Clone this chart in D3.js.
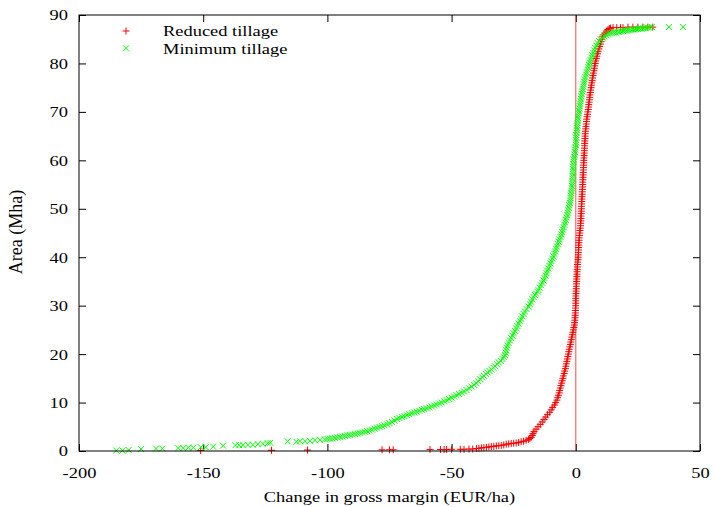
<!DOCTYPE html>
<html>
<head>
<meta charset="utf-8">
<script src="https://cdn.jsdelivr.net/npm/d3@7"></script>
<style>
  body { margin: 0; background: #fff; }
  text { font-family: "Liberation Serif", "Times New Roman", serif; font-size: 15.5px; fill: #000; }
</style>
</head>
<body>
<svg width="714" height="507"></svg>
<script>
// values: [change in gross margin (EUR/ha), area (Mha)]
var reducedTillage = [
  [-151,0.1],[-122.5,0.15],[-108,0.2],[-78,0.25],[-75,0.25],[-73.5,0.25],[-58.7,0.3],[-54.5,0.3],
  [-53,0.3],[-52,0.3],[-50,0.35],[-46.5,0.35],[-45,0.35],[-43,0.4],[-41.5,0.4],
  [-40,0.5],[-39,0.55],[-38,0.65],[-37,0.7],[-36,0.75],[-35,0.85],[-34,0.9],[-33,0.95],
  [-32,1.05],[-31,1.1],[-30,1.15],[-29,1.25],[-28,1.4],[-27,1.45],[-26,1.55],[-25,1.6],
  [-24,1.65],[-23,1.75],[-22,1.9],[-21,2.0],[-20,2.2],[-19,2.4],[-18.5,2.6],[-18,2.8],
  [-17.5,3.2],[-17.2,3.6],[-16.8,4.0],[-16.0,4.5],[-15.2,5.0],[-14.3,5.5],[-13.5,6.0],[-12.8,6.5],
  [-12.1,7.0],[-11.4,7.5],[-10.5,8.0],[-9.9,8.5],[-9.3,9.0],[-8.6,9.5],[-8.1,10.0],[-7.6,10.5],
  [-7.3,11.0],[-7.0,11.5],[-6.7,12.0],[-6.5,12.5],[-6.2,13.0],[-6.0,13.5],[-5.7,14.0],[-5.5,14.5],
  [-5.2,15.0],[-5.0,15.5],[-4.7,16.0],[-4.5,16.5],[-4.2,17.0],[-4.0,17.5],[-3.8,18.0],[-3.6,18.5],
  [-3.4,19.0],[-3.2,19.5],[-3.0,20.0],[-2.8,20.5],[-2.6,21.0],[-2.4,21.5],[-2.2,22.0],[-2.0,22.5],
  [-1.8,23.0],[-1.6,23.5],[-1.4,24.0],[-1.2,24.5],[-1.0,25.0],[-0.8,25.5],[-0.6,26.0],[-0.5,26.5],
  [-0.4,27.0],[-0.3,27.5],[-0.25,28.0],[-0.2,28.5],[-0.15,29.0],[-0.1,29.5],[-0.05,30.0],[0,30.5],
  [0,31.0],[0,31.5],[0.05,32.0],[0.1,32.5],[0.15,33.0],[0.2,33.5],[0.25,34.0],[0.3,34.5],
  [0.35,35.0],[0.4,35.5],[0.45,36.0],[0.5,36.5],[0.55,37.0],[0.6,37.5],[0.65,38.0],[0.7,38.5],
  [0.8,39.0],[0.9,39.5],[0.95,40.0],[1.0,40.5],[1.05,41.0],[1.1,41.5],[1.15,42.0],[1.2,42.5],
  [1.25,43.0],[1.3,43.5],[1.4,44.0],[1.5,44.5],[1.6,45.0],[1.7,45.5],[1.8,46.0],[1.9,46.5],
  [1.95,47.0],[2.0,47.5],[2.05,48.0],[2.1,48.5],[2.15,49.0],[2.2,49.5],[2.25,50.0],[2.3,50.5],
  [2.35,51.0],[2.4,51.5],[2.45,52.0],[2.5,52.5],[2.55,53.0],[2.6,53.5],[2.65,54.0],[2.7,54.5],
  [2.75,55.0],[2.8,55.5],[2.85,56.0],[2.9,56.5],[2.95,57.0],[3.0,57.5],[3.05,58.0],[3.1,58.5],
  [3.15,59.0],[3.2,59.5],[3.25,60.0],[3.3,60.5],[3.35,61.0],[3.4,61.5],[3.45,62.0],[3.5,62.5],
  [3.55,63.0],[3.6,63.5],[3.65,64.0],[3.7,64.5],[3.75,65.0],[3.8,65.5],[3.9,66.0],[4.0,66.5],
  [4.1,67.0],[4.2,67.5],[4.3,68.0],[4.4,68.5],[4.55,69.0],[4.7,69.5],[4.85,70.0],[5.0,70.5],
  [5.1,71.0],[5.2,71.5],[5.35,72.0],[5.5,72.5],[5.6,73.0],[5.7,73.5],[5.85,74.0],[6.0,74.5],
  [6.15,75.0],[6.3,75.5],[6.45,76.0],[6.6,76.5],[6.75,77.0],[6.9,77.5],[7.1,78.0],[7.3,78.5],
  [7.45,79.0],[7.6,79.5],[7.8,80.0],[8.0,80.5],[8.25,81.0],[8.5,81.5],[8.75,82.0],[9.0,82.5],
  [9.3,83.0],[9.6,83.5],[9.9,84.0],[10.2,84.5],[10.5,85.0],[10.8,85.5],[11.3,85.9],[11.8,86.3],
  [12.4,86.7],[13,87.0],[13.5,87.2],[14,87.3],[15,87.4],[16.5,87.4],[18,87.4],[19,87.4],
  [21,87.5],[23,87.5],[25,87.5],[27,87.5],[29,87.5],[31,87.5]
];

var minimumTillage = [
  [-185,0.1],[-182.5,0.1],[-180,0.2],[-175,0.4],[-169,0.5],[-166.5,0.5],[-160,0.6],[-158,0.6],
  [-156,0.7],[-154,0.7],[-151,0.8],[-149,0.8],[-146,0.9],[-142,1.1],[-137,1.2],[-135.5,1.2],
  [-134,1.2],[-132,1.3],[-130,1.3],[-128,1.4],[-126,1.5],[-124,1.6],[-123,1.7],[-116,2.0],
  [-112.5,1.9],[-111,2.0],[-109,2.0],[-107,2.1],[-105,2.2],[-103,2.3],[-101,2.4],
  [-100,2.5],[-99,2.55],[-98,2.6],[-97,2.7],[-96,2.8],[-95,2.9],[-94,3.0],[-93,3.1],
  [-92,3.2],[-91,3.3],[-90,3.4],[-89,3.5],[-88,3.6],[-87,3.7],[-86,3.8],[-85,3.95],
  [-84,4.1],[-83,4.25],[-82,4.4],[-81,4.6],[-80,4.8],[-79,4.95],[-78,5.1],[-77,5.3],
  [-76,5.5],[-75,5.75],[-74,6.0],[-73,6.3],[-72,6.6],[-71,6.8],[-70,7.0],[-69,7.2],
  [-68,7.4],[-67,7.6],[-66,7.8],[-65,7.95],[-64,8.1],[-63,8.3],[-62,8.5],[-61,8.65],
  [-60,8.8],[-59,9.0],[-58,9.2],[-57,9.4],[-56,9.6],[-55,9.8],[-54,10.0],[-53,10.25],
  [-52,10.5],[-51,10.75],[-50,11.0],[-49,11.25],[-48,11.5],[-47,11.75],[-46,12.0],[-45,12.3],
  [-44,12.6],[-43,12.95],[-42,13.3],[-41,13.65],[-40,14.0],[-39.2,14.4],[-38.5,14.8],[-37.7,15.2],
  [-37,15.5],[-36.2,15.9],[-35.5,16.2],[-34.7,16.5],[-34,16.8],[-33.2,17.2],[-32.5,17.5],[-31.7,17.9],
  [-31,18.3],[-30.2,18.6],[-29.5,19.0],[-29,19.4],[-28.5,19.8],[-28.2,20.3],[-28,20.8],[-27.8,21.3],
  [-27.5,21.8],[-27,22.3],[-26.5,22.8],[-26,23.3],[-25.5,23.8],[-25,24.3],[-24.5,24.8],[-24,25.3],
  [-23.5,25.8],[-23,26.3],[-22.5,26.8],[-22,27.3],[-21.5,27.8],[-21,28.3],[-20.5,28.8],[-19.8,29.3],
  [-19,29.8],[-18.5,30.3],[-18,30.8],[-17.5,31.3],[-17,31.8],[-16.5,32.2],[-16,32.5],[-15.5,32.9],
  [-15,33.2],[-14.5,33.7],[-14,34.2],[-13.5,34.7],[-13,35.2],[-12.6,35.7],[-12.2,36.2],[-11.8,36.7],
  [-11.5,37.2],[-11,37.7],[-10.6,38.2],[-10.2,38.7],[-9.8,39.2],[-9.4,39.7],[-9,40.2],[-8.6,40.7],
  [-8.3,41.2],[-7.9,41.7],[-7.6,42.2],[-7.2,42.7],[-6.9,43.2],[-6.5,43.7],[-6.2,44.2],[-5.8,44.7],
  [-5.5,45.2],[-5.2,45.7],[-4.9,46.2],[-4.6,46.7],[-4.3,47.2],[-4.0,47.7],[-3.7,48.2],[-3.4,48.7],
  [-3.2,49.2],[-3.0,49.7],[-2.8,50.2],[-2.6,50.7],[-2.4,51.2],[-2.25,51.7],[-2.1,52.2],[-1.95,52.7],
  [-1.8,53.2],[-1.7,53.7],[-1.6,54.2],[-1.5,54.7],[-1.4,55.2],[-1.35,55.7],[-1.3,56.2],[-1.25,56.7],
  [-1.2,57.2],[-1.15,57.7],[-1.1,58.2],[-1.05,58.7],[-1.0,59.2],[-0.9,59.7],[-0.8,60.2],[-0.65,60.7],
  [-0.5,61.2],[-0.35,61.7],[-0.2,62.2],[-0.1,62.7],[0,63.2],[0.05,63.7],[0.1,64.2],[0.15,64.7],
  [0.2,65.2],[0.3,65.7],[0.4,66.2],[0.5,66.7],[0.6,67.2],[0.7,67.7],[0.8,68.2],[0.9,68.7],
  [1.0,69.2],[1.15,69.7],[1.3,70.2],[1.45,70.7],[1.6,71.2],[1.75,71.7],[1.9,72.2],[2.05,72.7],
  [2.2,73.2],[2.4,73.7],[2.6,74.2],[2.8,74.7],[3.0,75.2],[3.2,75.7],[3.4,76.2],[3.65,76.7],
  [3.9,77.2],[4.15,77.7],[4.4,78.2],[4.7,78.7],[5.0,79.2],[5.3,79.7],[5.6,80.2],[5.95,80.7],
  [6.3,81.2],[6.65,81.7],[7.0,82.2],[7.4,82.7],[7.8,83.2],[8.3,83.7],[8.8,84.2],[9.4,84.6],
  [10,85.0],[10.7,85.3],[11.5,85.6],[12.2,85.8],[13,86.0],[13.8,86.2],[14.5,86.3],[15.2,86.4],
  [16,86.4],[16.8,86.5],[17.5,86.5],[18.2,86.6],[19,86.7],[19.8,86.8],[20.5,86.8],[21.2,86.9],
  [22,86.9],[22.8,87.0],[23.5,87.0],[24.2,87.1],[25,87.1],[25.8,87.2],[26.5,87.2],[27.2,87.3],
  [28,87.3],[28.8,87.4],[29.5,87.4],[30.7,87.5],[37.5,87.5],[43.2,87.5]
];

var xTicks = [-200, -150, -100, -50, 0, 50];
var yTicks = [0, 10, 20, 30, 40, 50, 60, 70, 80, 90];
var seriesNames = ["Reduced tillage", "Minimum tillage"];
var seriesColors = ["#ff0000", "#00ff00"];

var margin = { top: 15, right: 14, bottom: 56, left: 79 };
var width = 714 - margin.left - margin.right;
var height = 507 - margin.top - margin.bottom;
var sx = 1.19; // the reference lettering is wider than plain Times

var svg = d3.select("svg");
var g = svg.append("g")
  .attr("transform", "translate(" + margin.left + "," + margin.top + ")");

var x = d3.scaleLinear().domain([-200, 50]).range([0, width]);
var y = d3.scaleLinear().domain([0, 90]).range([height, 0]);
var fmt = function(d) { return String(d); };

function stretch(sel) {
  sel.each(function() {
    var t = d3.select(this);
    var px = +t.attr("x") || 0;
    t.attr("x", px / sx).attr("transform", "scale(" + sx + ",1)");
  });
}

// axes: ticks inside, mirrored on the top and right
g.append("g")
  .attr("transform", "translate(0," + height + ")")
  .call(d3.axisBottom(x).tickValues(xTicks).tickFormat(fmt).tickSizeInner(-7).tickSizeOuter(0).tickPadding(16))
  .call(function(a) { a.select(".domain").remove(); });
g.append("g")
  .call(d3.axisTop(x).tickValues(xTicks).tickFormat("").tickSizeInner(-7).tickSizeOuter(0))
  .select(".domain").remove();
g.append("g")
  .call(d3.axisLeft(y).tickValues(yTicks).tickFormat(fmt).tickSizeInner(-7).tickSizeOuter(0).tickPadding(11))
  .select(".domain").remove();
g.append("g")
  .attr("transform", "translate(" + width + ",0)")
  .call(d3.axisRight(y).tickValues(yTicks).tickFormat("").tickSizeInner(-7).tickSizeOuter(0))
  .select(".domain").remove();
g.selectAll(".tick line").attr("stroke", "#000");
g.selectAll(".tick text").call(stretch);

// zero line
g.append("line")
  .attr("x1", x(0)).attr("x2", x(0))
  .attr("y1", y(0)).attr("y2", y(90))
  .attr("stroke", "#ff0000").attr("stroke-opacity", 0.7).attr("stroke-width", 1);

var plusPath = "M-3.5,0H3.5M0,-3.5V3.5";
var crossPath = "M-3,-3L3,3M-3,3L3,-3";

g.append("g").selectAll("path")
  .data(reducedTillage)
  .join("path")
  .attr("transform", function(d) { return "translate(" + x(d[0]) + "," + y(d[1]) + ")"; })
  .attr("d", plusPath)
  .attr("stroke", seriesColors[0]).attr("fill", "none");

g.append("g").selectAll("path")
  .data(minimumTillage)
  .join("path")
  .attr("transform", function(d) { return "translate(" + x(d[0]) + "," + y(d[1]) + ")"; })
  .attr("d", crossPath)
  .attr("stroke", seriesColors[1]).attr("fill", "none");

// frame
g.append("rect")
  .attr("width", width).attr("height", height)
  .attr("fill", "none").attr("stroke", "#000").attr("stroke-width", 1);

// legend
var legend = g.append("g").attr("transform", "translate(47,16)");
seriesNames.forEach(function(name, i) {
  var row = legend.append("g").attr("transform", "translate(0," + (i * 17.3) + ")");
  row.append("path").attr("d", i === 0 ? plusPath : crossPath)
    .attr("stroke", seriesColors[i]).attr("fill", "none");
  row.append("text").attr("x", 37).attr("dy", "0.35em").text(name).call(stretch);
});

// axis titles
svg.append("text")
  .attr("x", margin.left + width / 2).attr("y", 502)
  .attr("text-anchor", "middle")
  .text("Change in gross margin (EUR/ha)")
  .call(stretch);
svg.append("text")
  .attr("transform", "translate(22," + (margin.top + height / 2 - 1) + ") rotate(-90)")
  .attr("text-anchor", "middle")
  .style("font-size", "18px")
  .text("Area (Mha)");
</script>
</body>
</html>
